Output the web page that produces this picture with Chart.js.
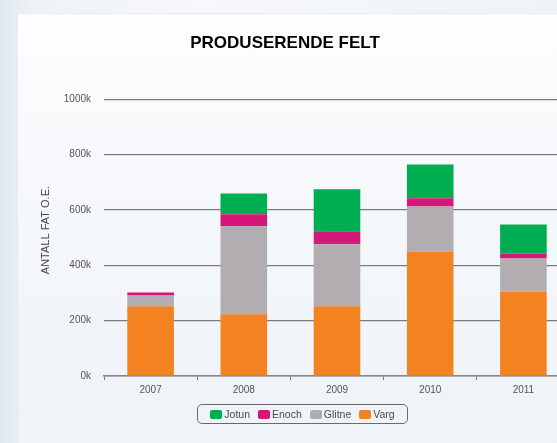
<!DOCTYPE html>
<html>
<head>
<meta charset="utf-8">
<script src="https://cdn.jsdelivr.net/npm/chart.js@4/dist/chart.umd.min.js"></script>
<style>
html,body{margin:0;padding:0;width:557px;height:443px;overflow:hidden;}
body{background:linear-gradient(to right,#dfe7f0 0px,#eef2f7 30px,#f6f8fb 200px,#eef3f8 557px);position:relative;font-family:"Liberation Sans",Arial,Helvetica,sans-serif;}
#card{position:absolute;left:17px;top:13px;width:620px;height:460px;background:linear-gradient(to bottom,#fcfdfe,#f1f5f9 70%,#eef3f8);border:1px solid #e6eaee;box-sizing:border-box;}
#wrap{position:absolute;left:0;top:0;width:605px;height:443px;}
#legend{position:absolute;left:197px;top:404px;width:211px;height:20px;box-sizing:border-box;border:1px solid #6a6a6a;border-radius:5px;display:flex;align-items:center;justify-content:center;font-size:10.5px;color:#4a4a4a;}
#legend span.item{display:inline-flex;align-items:center;margin:0 4px;}
#legend span.sw{display:inline-block;width:12px;height:9px;border-radius:2px;margin-right:2px;}
</style>
</head>
<body>
<div id="card"></div>
<div id="wrap"><canvas id="chart" width="605" height="443"></canvas></div>
<div id="legend"></div>
<script>
window.addEventListener("load", () => {

/* ========= DATA ========= */

const years = ["2007","2008","2009","2010","2011"];
const varg   = [252, 223, 252, 450, 305];
const glitne = [39, 318, 224, 163, 120];
const enoch  = [11, 44, 47, 30, 18];
const jotun  = [0, 75, 152, 122, 105];
const yTicks = [0, 200, 400, 600, 800, 1000];

const COLORS = {Varg:"#f58220", Glitne:"#b1adb1", Enoch:"#d31877", Jotun:"#00ad50"};

/* ========= CHART ========= */

const series = [
  {label:"Varg", data:varg},
  {label:"Glitne", data:glitne},
  {label:"Enoch", data:enoch},
  {label:"Jotun", data:jotun}
];

const ctx = document.getElementById("chart").getContext("2d");

new Chart(ctx,{
type:"bar",
data:{
labels:years,
datasets:series.map(s=>({
label:s.label,
data:s.data,
backgroundColor:COLORS[s.label],
borderWidth:0,
categoryPercentage:0.5,
barPercentage:1
}))
},
options:{
responsive:false,
animation:false,
layout:{padding:{left:0,right:35,top:0,bottom:43}},
plugins:{
legend:{display:false},
tooltip:{enabled:false},
title:{
display:true,
text:"PRODUSERENDE FELT",
color:"#000",
font:{family:"'Liberation Sans', Arial, sans-serif",size:17,weight:"bold"},
padding:{top:33,bottom:46}
}
},
scales:{
x:{
stacked:true,
grid:{display:true,drawOnChartArea:false,drawTicks:true,tickLength:4,color:"#777",offset:true},
border:{display:true,color:"#888",width:1.5},
ticks:{color:"#555",font:{family:"'Liberation Sans', Arial, sans-serif",size:10},padding:4}
},
y:{
stacked:true,
min:0,
max:1000,
afterFit:(s)=>{s.width=104;},
afterBuildTicks:(s)=>{s.ticks=yTicks.map(v=>({value:v}));},
grid:{color:"#7c7c7c",lineWidth:1.2,drawTicks:false},
border:{display:false},
ticks:{
color:"#555",
padding:13,
font:{family:"'Liberation Sans', Arial, sans-serif",size:10},
callback:(v)=>v+"k"
},
title:{
display:true,
text:"     ANTALL FAT O.E.",
color:"#444",
font:{family:"'Liberation Sans', Arial, sans-serif",size:11},
padding:{top:39,bottom:0}
}
}
}
}
});

/* ========= LEGEND ========= */

const legendEl = document.getElementById("legend");
["Jotun","Enoch","Glitne","Varg"].forEach(name=>{
const item=document.createElement("span");
item.className="item";
const sw=document.createElement("span");
sw.className="sw";
sw.style.background=COLORS[name];
item.appendChild(sw);
item.appendChild(document.createTextNode(name));
legendEl.appendChild(item);
});

});
</script>
</body>
</html>
